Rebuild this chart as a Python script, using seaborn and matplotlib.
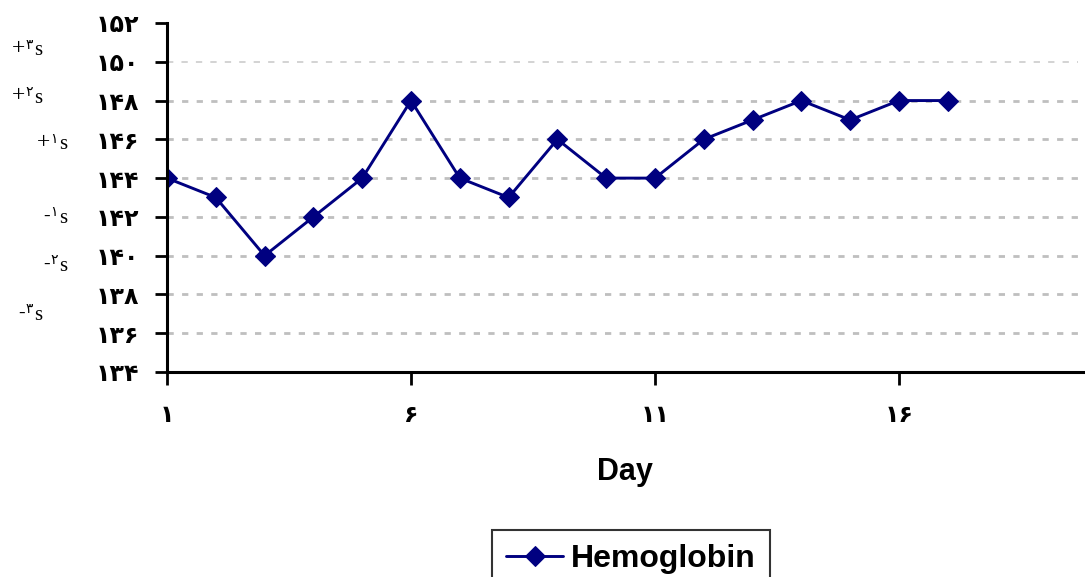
import numpy as np
import pandas as pd
import matplotlib
matplotlib.use("Agg")
import matplotlib.pyplot as plt
import seaborn as sns

# data
days = list(range(1, 18))
hemoglobin = [144, 143, 140, 142, 144, 148, 144, 143, 146, 144, 144, 146, 147, 148, 147, 148, 148]
y_ticks = [134, 136, 138, 140, 142, 144, 146, 148, 150, 152]
x_ticks = [1, 6, 11, 16]
sd_signs = ["+", "+", "+", "-", "-", "-"]
sd_digits = ["۳", "۲", "۱", "۱", "۲", "۳"]
sd_levels = [150.56, 148.13, 145.71, 141.94, 139.46, 136.93]
sd_right = [42, 42, 67, 67, 67, 42]  # right edge in pixels


def fa_digits(n):
    return str(n).translate(str.maketrans("0123456789", "۰۱۲۳۴۵۶۷۸۹"))


df = pd.DataFrame({"Day": days, "Hemoglobin": hemoglobin})

sns.set_style("white")
plt.rcParams["font.family"] = ["DejaVu Sans"]
plt.rcParams["text.color"] = "black"
plt.rcParams["xtick.color"] = "black"
plt.rcParams["ytick.color"] = "black"
plt.rcParams["axes.labelcolor"] = "black"

fig = plt.figure(figsize=(10.85, 5.77), dpi=100)
W, H = 1085, 577
ax = fig.add_axes([167 / W, 1 - 372 / H, (1083 - 167) / W, (372 - 23) / H])

sns.lineplot(data=df, x="Day", y="Hemoglobin", ax=ax, color="#000080",
             marker="D", markersize=10, markeredgecolor="#000080",
             linewidth=2.1, label="Hemoglobin", legend=False)

ax.set_xlim(1, 1 + (1083 - 167) / 48.8)
ax.set_ylim(134, 152)

for v in y_ticks[1:-1]:
    light = v == 150
    ax.axhline(v, xmin=0, xmax=(1078 - 167) / (1083 - 167),
               color="#d0d0d0" if light else "#bfbfbf",
               linestyle=(0, (2.25, 3)) if not light else (0, (3.5, 4.5)),
               linewidth=1.3 if light else 2, zorder=0)

ax.set_yticks(y_ticks)
ax.set_yticklabels([fa_digits(v) for v in y_ticks], fontsize=17, fontweight="bold")
ax.set_xticks(x_ticks)
ax.set_xticklabels([fa_digits(v) for v in x_ticks], fontsize=17, fontweight="bold")
ax.tick_params(axis="y", direction="out", length=9, width=2, left=True, pad=11)
ax.tick_params(axis="x", direction="out", length=9, width=2, bottom=True, pad=13)

for s in ["top", "right"]:
    ax.spines[s].set_visible(False)
for s in ["left", "bottom"]:
    ax.spines[s].set_linewidth(2.2)
    ax.spines[s].set_color("black")

ax.set_xlabel("Day", fontsize=22, fontweight="bold", family="Liberation Sans", labelpad=22)
ax.set_ylabel("")

# standard deviation markers on the far left
for sign, dig, lvl, rx in zip(sd_signs, sd_digits, sd_levels, sd_right):
    _, yf = fig.transFigure.inverted().transform(ax.transData.transform((1, lvl)))
    xr = rx / W
    fig.text(xr, yf, "s", fontsize=15, family=["Liberation Serif"], ha="right", va="center")
    fig.text(xr - 9 / W, yf + 6 / H, dig, fontsize=10, family=["DejaVu Sans"], ha="right", va="center")
    fig.text(xr - 17 / W, yf + 2 / H, sign, fontsize=17 if sign == "+" else 14,
             family=["Liberation Serif"], ha="right", va="center")

leg = fig.legend(loc="upper center", bbox_to_anchor=(631 / W, 1 - 530 / H),
                 prop={"size": 23, "weight": "bold", "family": "Liberation Sans"},
                 frameon=True, fancybox=False, handlelength=1.8, handletextpad=0.25,
                 borderpad=0.45, borderaxespad=0)
leg.get_frame().set_edgecolor("black")
leg.get_frame().set_linewidth(1.5)

fig.savefig("out.png", dpi=100)
